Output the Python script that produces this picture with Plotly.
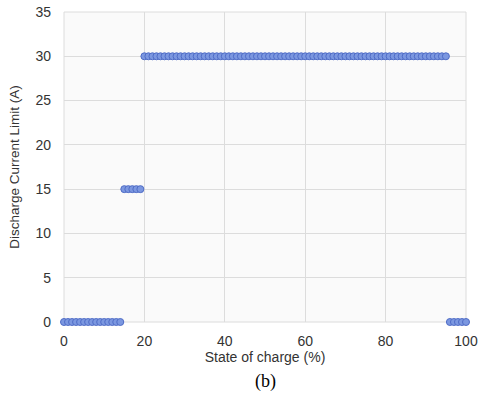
import plotly.graph_objects as go

soc_low = list(range(0, 15))
cur_low = [0] * 15
soc_mid = list(range(15, 20))
cur_mid = [15] * 5
soc_high = list(range(20, 96))
cur_high = [30] * 76
soc_end = list(range(96, 101))
cur_end = [0] * 5

x = soc_low + soc_mid + soc_high + soc_end
y = cur_low + cur_mid + cur_high + cur_end

fig = go.Figure()
fig.add_trace(go.Scatter(
    x=x, y=y, mode="markers",
    marker=dict(size=7, color="#7b97e0", line=dict(color="#4f6cc6", width=1)),
    cliponaxis=False, showlegend=False,
))

fig.update_layout(
    width=480, height=403,
    margin=dict(l=64, r=14, t=12, b=81),
    paper_bgcolor="white",
    plot_bgcolor="#fafafa",
    font=dict(family="Liberation Sans, Arial", size=14, color="#333333"),
    xaxis=dict(
        range=[0, 100], tickvals=[0, 20, 40, 60, 80, 100],
        showgrid=True, gridcolor="#dcdcdc", gridwidth=1, automargin=False,
        zeroline=False, showline=False, ticks="", ticklabelstandoff=9,
        title=dict(text="State of charge (%)", font=dict(size=14), standoff=4),
    ),
    yaxis=dict(
        range=[0, 35], tickvals=[0, 5, 10, 15, 20, 25, 30, 35],
        showgrid=True, gridcolor="#dcdcdc", gridwidth=1, automargin=False,
        zeroline=False, showline=False, ticks="", ticklabelstandoff=12,
        title=dict(text="Discharge Current Limit (A)", font=dict(size=13.5), standoff=12),
    ),
    shapes=[dict(type="rect", xref="paper", yref="paper", x0=0, x1=1, y0=0, y1=1,
                 line=dict(color="#dcdcdc", width=1), layer="below")],
    annotations=[dict(text="(b)", xref="paper", yref="paper", x=0.5, y=-0.15,
                      xanchor="center", yanchor="top", showarrow=False,
                      font=dict(family="Liberation Serif, Times New Roman", size=18, color="#000"))],
)

fig.write_html("out.html")
